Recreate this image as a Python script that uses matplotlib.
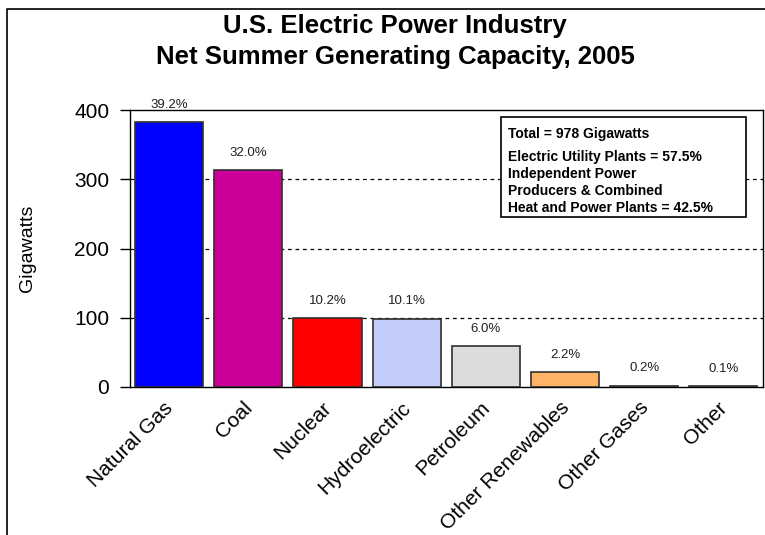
import matplotlib
matplotlib.use('Agg')
import matplotlib.pyplot as plt
from matplotlib.lines import Line2D
from matplotlib.transforms import ScaledTranslation

plt.rcParams['font.family'] = ['Liberation Sans', 'DejaVu Sans']

# Capacity by energy source (gigawatts) and share of total
sources = ['Natural Gas', 'Coal', 'Nuclear', 'Hydroelectric', 'Petroleum',
           'Other Renewables', 'Other Gases', 'Other']
capacity = [383.1, 313.4, 100.0, 98.8, 58.5, 21.2, 2.1, 0.9]
shares = ['39.2%', '32.0%', '10.2%', '10.1%', '6.0%', '2.2%', '0.2%', '0.1%']
colors = ['#0000FF', '#CC0099', '#FF0000', '#C4CCFA', '#DCDCDC', '#FFB366',
          '#202020', '#202020']
yticks = [0, 100, 200, 300, 400]

note = ['Total = 978 Gigawatts',
        'Electric Utility Plants = 57.5%',
        'Independent Power',
        'Producers & Combined',
        'Heat and Power Plants = 42.5%']

W, H = 765, 535
fig = plt.figure(figsize=(W / 100, H / 100), dpi=100)

# outer frame (left and top edges only)
fig.add_artist(Line2D([7 / W, 7 / W, 1], [0, 1 - 9 / H, 1 - 9 / H],
                      transform=fig.transFigure, color='black', lw=1.2))

ax = fig.add_axes([129.5 / W, 1 - 387 / H, (763 - 129.5) / W, (387 - 110) / H])
x = range(len(sources))
ax.bar(x, capacity, width=0.86, color=colors, edgecolor='#303030',
       linewidth=1.2, zorder=3)

for xi, v, s in zip(x, capacity, shares):
    ax.annotate(s, (xi, v), xytext=(0, 8), textcoords='offset points',
                ha='center', va='bottom', fontsize=9.5, color='#202020')

ax.set_xlim(-0.5, len(sources) - 0.5)
ax.set_ylim(0, 400)
ax.set_yticks(yticks)
ax.tick_params(axis='y', labelsize=15, length=7.5, width=1, direction='out', pad=7)
ax.set_xticks(list(x))
ax.set_xticklabels(sources, rotation=45, ha='right', va='top',
                   rotation_mode='anchor', fontsize=15)
ax.tick_params(axis='x', length=0, pad=8)
shift = ScaledTranslation(-4 / 72, 0, fig.dpi_scale_trans)
for lab in ax.get_xticklabels():
    lab.set_transform(lab.get_transform() + shift)
for sp in ax.spines.values():
    sp.set_linewidth(1.0)

for g in [100, 200, 300]:
    ax.axhline(g, color='black', lw=0.9, ls=(0, (3, 3)), zorder=1)

ax.set_ylabel('Gigawatts', fontsize=14)
ax.yaxis.set_label_coords(-0.147, 0.5)

fig.text(395 / W, 1 - 26 / H, 'U.S. Electric Power Industry',
         ha='center', va='center', fontsize=18.5, fontweight='bold')
fig.text(395 / W, 1 - 57 / H, 'Net Summer Generating Capacity, 2005',
         ha='center', va='center', fontsize=18.5, fontweight='bold')

# summary box
box = plt.Rectangle((501 / W, 1 - 217 / H), 245 / W, 100 / H,
                    transform=fig.transFigure, facecolor='white',
                    edgecolor='black', lw=1.2, zorder=5)
fig.add_artist(box)
for txt, yy in zip(note, [134, 157, 174, 191, 208]):
    fig.text(508 / W, 1 - yy / H, txt, ha='left', va='center',
             fontsize=10, fontweight='bold', zorder=6)

fig.savefig('out.png', dpi=100)
